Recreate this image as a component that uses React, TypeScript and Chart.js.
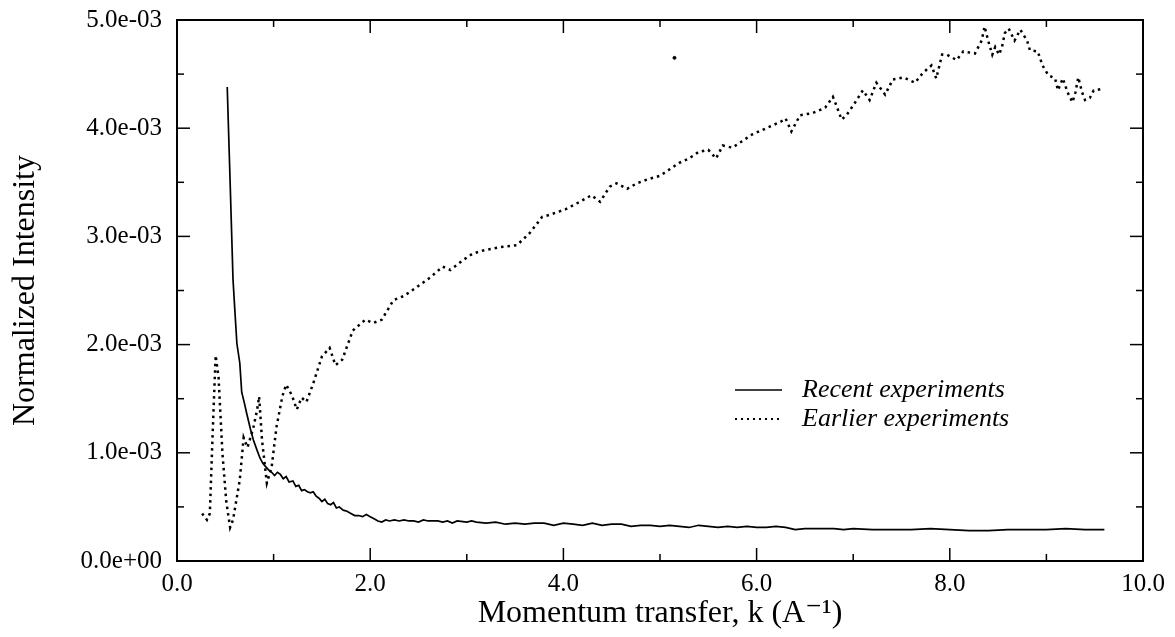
import React, { useEffect, useRef } from "react";
import { Chart, registerables } from "chart.js";

Chart.register(...registerables);

// Momentum transfer k (1/A) and normalized intensity (units of 1e-3)
const recentK = [
  0.52, 0.55, 0.58, 0.6, 0.62, 0.65, 0.67, 0.7, 0.72, 0.76, 0.79, 0.83, 0.86, 0.89, 0.92, 0.95, 0.98,
  1.01, 1.04, 1.07, 1.1, 1.13, 1.16, 1.2, 1.23, 1.26, 1.29, 1.32, 1.35, 1.38, 1.41, 1.44, 1.47, 1.5,
  1.53, 1.56, 1.59, 1.62, 1.65, 1.68, 1.72, 1.76, 1.8, 1.84, 1.88, 1.92, 1.96, 2.0, 2.04, 2.08, 2.12,
  2.16, 2.2, 2.25, 2.3, 2.35, 2.4, 2.45, 2.5, 2.55, 2.6, 2.7, 2.75, 2.8, 2.85, 2.9, 3.0, 3.05, 3.1,
  3.2, 3.3, 3.4, 3.5, 3.6, 3.7, 3.8, 3.9, 4.0, 4.1, 4.2, 4.3, 4.4, 4.5, 4.6, 4.7, 4.8, 4.9, 5.0, 5.1,
  5.2, 5.3, 5.4, 5.5, 5.6, 5.7, 5.8, 5.9, 6.0, 6.1, 6.2, 6.3, 6.4, 6.5, 6.6, 6.7, 6.8, 6.9, 7.0, 7.2,
  7.4, 7.6, 7.8, 8.0, 8.2, 8.4, 8.6, 8.8, 9.0, 9.2, 9.4, 9.6,
];
const recentI = [
  4.38, 3.5, 2.6, 2.3, 2.01, 1.83, 1.56, 1.45, 1.37, 1.22, 1.12, 1.02, 0.95, 0.9, 0.87, 0.84, 0.82,
  0.79, 0.82, 0.8, 0.76, 0.78, 0.73, 0.74, 0.69, 0.7, 0.65, 0.66, 0.64, 0.63, 0.64, 0.6, 0.58, 0.55,
  0.57, 0.53, 0.52, 0.54, 0.49, 0.5, 0.47, 0.46, 0.44, 0.42, 0.42, 0.41, 0.43, 0.41, 0.39, 0.37, 0.36,
  0.38, 0.37, 0.38, 0.37, 0.38, 0.37, 0.37, 0.36, 0.38, 0.37, 0.37, 0.36, 0.37, 0.35, 0.37, 0.36, 0.37, 0.36,
  0.35, 0.36, 0.34, 0.35, 0.34, 0.35, 0.35, 0.33, 0.35, 0.34, 0.33, 0.35, 0.33, 0.34, 0.34, 0.32, 0.33, 0.33, 0.32, 0.33,
  0.32, 0.31, 0.33, 0.32, 0.31, 0.32, 0.31, 0.32, 0.31, 0.31, 0.32, 0.31, 0.29, 0.3, 0.3, 0.3, 0.3, 0.29, 0.3, 0.29,
  0.29, 0.29, 0.3, 0.29, 0.28, 0.28, 0.29, 0.29, 0.29, 0.3, 0.29, 0.29,
];

const earlierK = [
  0.26, 0.31, 0.34, 0.37, 0.4, 0.43, 0.47, 0.51, 0.55, 0.58, 0.65, 0.69, 0.73, 0.79, 0.83, 0.85, 0.88,
  0.93, 0.98, 1.03, 1.09, 1.13, 1.19, 1.24, 1.29, 1.34, 1.41, 1.5, 1.58, 1.64, 1.71, 1.82, 1.95, 2.03,
  2.12, 2.24, 2.35, 2.48, 2.62, 2.75, 2.83, 2.96, 3.06, 3.17, 3.34, 3.52, 3.65, 3.78, 3.86, 4.02, 4.17,
  4.29, 4.38, 4.48, 4.55, 4.66, 4.76, 4.88, 5.0, 5.1, 5.2, 5.3, 5.4, 5.5, 5.58, 5.65, 5.75, 5.85, 5.95,
  6.05, 6.15, 6.25, 6.3, 6.36, 6.45, 6.58, 6.71, 6.79, 6.83, 6.88, 6.93, 7.0, 7.1, 7.17, 7.24, 7.33,
  7.41, 7.52, 7.64, 7.72, 7.81, 7.86, 7.92, 7.97, 8.07, 8.14, 8.26, 8.33, 8.36, 8.4, 8.44, 8.47, 8.51,
  8.54, 8.57, 8.61, 8.67, 8.73, 8.8, 8.83, 8.91, 8.96, 9.02, 9.09, 9.12, 9.17, 9.22, 9.27, 9.3, 9.33,
  9.37, 9.4, 9.45, 9.49, 9.56,
];
const earlierI = [
  0.44, 0.38, 0.44, 1.2, 1.9, 1.7, 1.0, 0.55, 0.31, 0.38, 0.75, 1.14, 1.05, 1.23, 1.4, 1.52, 1.12,
  0.72, 0.87, 1.24, 1.52, 1.63, 1.53, 1.4, 1.51, 1.47, 1.64, 1.89, 1.97, 1.81, 1.86, 2.13, 2.23, 2.2,
  2.23, 2.41, 2.45, 2.53, 2.62, 2.72, 2.69, 2.78, 2.84, 2.87, 2.9, 2.92, 3.03, 3.18, 3.2, 3.25, 3.32,
  3.38, 3.32, 3.46, 3.49, 3.44, 3.49, 3.53, 3.56, 3.62, 3.68, 3.72, 3.78, 3.8, 3.72, 3.84, 3.82, 3.88, 3.94,
  3.98, 4.02, 4.06, 4.09, 3.97, 4.12, 4.14, 4.19, 4.29, 4.2, 4.08, 4.12, 4.21, 4.35, 4.26, 4.42, 4.31,
  4.45, 4.47, 4.42, 4.51, 4.58, 4.46, 4.68, 4.68, 4.63, 4.71, 4.69, 4.81, 4.94, 4.8, 4.68, 4.75, 4.68,
  4.75, 4.88, 4.92, 4.81, 4.91, 4.81, 4.72, 4.71, 4.58, 4.49, 4.46, 4.35, 4.46, 4.33, 4.24, 4.33, 4.47,
  4.33, 4.26, 4.28, 4.35, 4.36,
];

const strayK = [5.15];
const strayI = [4.65];

const xTicks = [0, 2, 4, 6, 8, 10];
const yTicks = [0, 1, 2, 3, 4, 5];
const legendLabels = ["Recent experiments", "Earlier experiments"];
const xTitle = "Momentum transfer, k (A\u207B\u00B9)";
const yTitle = "Normalized Intensity";

const FONT = "'Liberation Serif', 'DejaVu Serif', serif";

const fmtY = (v: number) => {
  const s = (v * 1e-3).toExponential(1);
  const [m, e] = s.split("e");
  const sign = e[0] === "-" ? "-" : "+";
  const d = e.replace(/[+-]/, "");
  return `${m}e${sign}${d.padStart(2, "0")}`;
};

const framePlugin = {
  id: "frame",
  afterDatasetsDraw(chart: any) {
    const { ctx, chartArea, scales } = chart;
    const { left, right, top, bottom } = chartArea;
    const x = scales.x;
    const y = scales.y;
    ctx.save();
    ctx.strokeStyle = "#000";
    ctx.lineWidth = 2;
    ctx.strokeRect(left, top, right - left, bottom - top);
    ctx.lineWidth = 1.5;
    const seg = (x1: number, y1: number, x2: number, y2: number) => {
      ctx.beginPath();
      ctx.moveTo(x1, y1);
      ctx.lineTo(x2, y2);
      ctx.stroke();
    };
    for (let i = 0; i < xTicks.length; i++) {
      const px = x.getPixelForValue(xTicks[i]);
      seg(px, bottom, px, bottom - 13);
      seg(px, top, px, top + 13);
      if (i < xTicks.length - 1) {
        const pm = x.getPixelForValue((xTicks[i] + xTicks[i + 1]) / 2);
        seg(pm, bottom, pm, bottom - 7);
        seg(pm, top, pm, top + 7);
      }
    }
    for (let i = 0; i < yTicks.length; i++) {
      const py = y.getPixelForValue(yTicks[i]);
      seg(left, py, left + 13, py);
      seg(right, py, right - 13, py);
      if (i < yTicks.length - 1) {
        const pm = y.getPixelForValue((yTicks[i] + yTicks[i + 1]) / 2);
        seg(left, pm, left + 7, pm);
        seg(right, pm, right - 7, pm);
      }
    }
    // legend
    const lx1 = 735;
    const lx2 = 782;
    const ly = [390, 419];
    ctx.lineWidth = 1.6;
    ctx.setLineDash([]);
    seg(lx1, ly[0], lx2, ly[0]);
    ctx.lineWidth = 2;
    ctx.setLineDash([2, 4]);
    seg(lx1, ly[1], lx2, ly[1]);
    ctx.setLineDash([]);
    ctx.fillStyle = "#000";
    ctx.font = `italic 26px ${FONT}`;
    ctx.textBaseline = "middle";
    ctx.textAlign = "left";
    ctx.fillText(legendLabels[0], 802, ly[0]);
    ctx.fillText(legendLabels[1], 802, ly[1]);
    ctx.restore();
  },
};

export default function App() {
  const ref = useRef<HTMLCanvasElement | null>(null);
  useEffect(() => {
    document.body.style.margin = "0";
    if (!ref.current) return;
    const toPts = (ks: number[], is: number[]) => ks.map((k, i) => ({ x: k, y: is[i] }));
    const chart = new Chart(ref.current, {
      type: "line",
      data: {
        datasets: [
          {
            label: legendLabels[0],
            data: toPts(recentK, recentI),
            borderColor: "#000",
            borderWidth: 1.7,
            pointRadius: 0,
            tension: 0,
          },
          {
            label: legendLabels[1],
            data: toPts(earlierK, earlierI),
            borderColor: "#000",
            borderWidth: 2.5,
            borderDash: [2.5, 4],
            pointRadius: 0,
            tension: 0,
          },
          {
            label: "",
            data: toPts(strayK, strayI),
            showLine: false,
            pointRadius: 1.5,
            backgroundColor: "#000",
            borderColor: "#000",
          },
        ],
      },
      options: {
        animation: false,
        responsive: false,
        layout: { padding: { top: 20, right: 32, left: 0, bottom: 0 } },
        plugins: { legend: { display: false }, tooltip: { enabled: false } },
        scales: {
          x: {
            type: "linear",
            min: 0,
            max: 10,
            afterBuildTicks: (s: any) => {
              s.ticks = xTicks.map((v) => ({ value: v }));
            },
            afterFit: (s: any) => {
              s.height = 76;
              s.paddingLeft = 0;
              s.paddingRight = 0;
            },
            ticks: {
              callback: (v: any) => Number(v).toFixed(1),
              font: { family: FONT, size: 25 },
              color: "#000",
              padding: 8,
              maxRotation: 0,
            },
            grid: { display: false, drawTicks: false },
            border: { display: false },
            title: {
              display: true,
              text: xTitle,
              font: { family: FONT, size: 32 },
              color: "#000",
              padding: { top: 0, bottom: 4 },
            },
          },
          y: {
            type: "linear",
            min: 0,
            max: 5,
            afterBuildTicks: (s: any) => {
              s.ticks = yTicks.map((v) => ({ value: v }));
            },
            afterFit: (s: any) => {
              s.width = 177;
              s.paddingTop = 0;
              s.paddingBottom = 0;
            },
            ticks: {
              callback: (v: any) => fmtY(Number(v)),
              font: { family: FONT, size: 25 },
              color: "#000",
              padding: 15,
            },
            grid: { display: false, drawTicks: false },
            border: { display: false },
            title: {
              display: true,
              text: yTitle,
              font: { family: FONT, size: 32 },
              color: "#000",
              padding: { top: 6, bottom: 0 },
            },
          },
        },
      },
      plugins: [framePlugin],
    });
    return () => chart.destroy();
  }, []);
  return (
    <div style={{ width: 1175, height: 637 }}>
      <canvas ref={ref} width={1175} height={637} style={{ display: "block" }} />
    </div>
  );
}
